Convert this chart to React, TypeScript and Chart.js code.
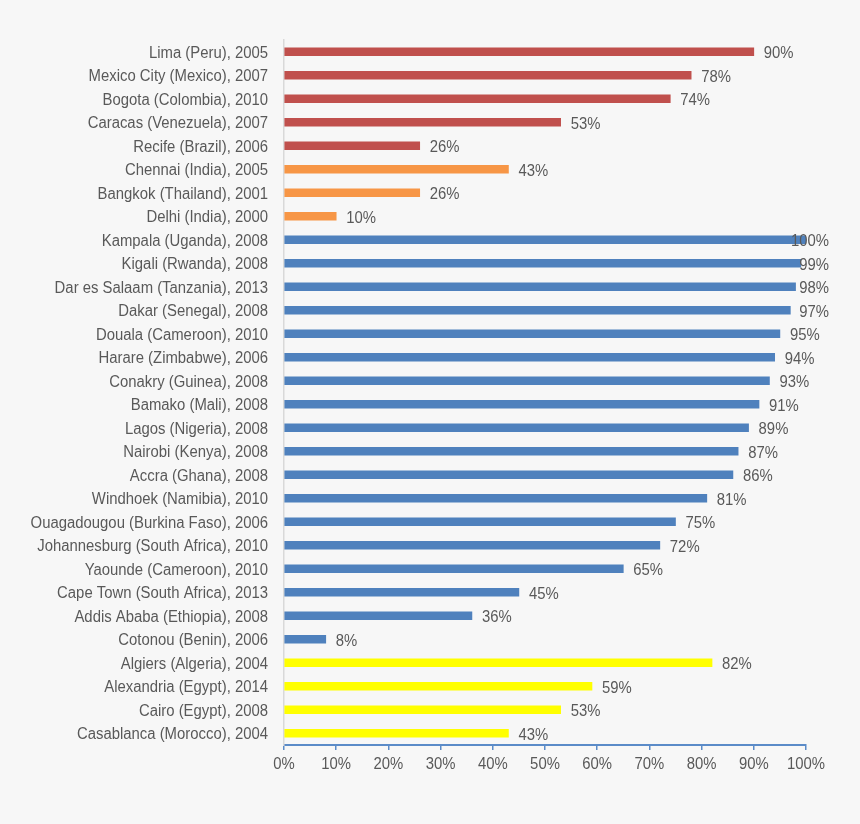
import React, { useEffect, useRef } from "react";
import { Chart, registerables } from "chart.js";

Chart.register(...registerables);

const categories = [
  "Lima (Peru), 2005",
  "Mexico City (Mexico), 2007",
  "Bogota (Colombia), 2010",
  "Caracas (Venezuela), 2007",
  "Recife (Brazil), 2006",
  "Chennai (India), 2005",
  "Bangkok (Thailand), 2001",
  "Delhi (India), 2000",
  "Kampala (Uganda), 2008",
  "Kigali (Rwanda), 2008",
  "Dar es Salaam (Tanzania), 2013",
  "Dakar (Senegal), 2008",
  "Douala (Cameroon), 2010",
  "Harare (Zimbabwe), 2006",
  "Conakry (Guinea), 2008",
  "Bamako (Mali), 2008",
  "Lagos (Nigeria), 2008",
  "Nairobi (Kenya), 2008",
  "Accra (Ghana), 2008",
  "Windhoek (Namibia), 2010",
  "Ouagadougou (Burkina Faso), 2006",
  "Johannesburg (South Africa), 2010",
  "Yaounde (Cameroon), 2010",
  "Cape Town (South Africa), 2013",
  "Addis Ababa (Ethiopia), 2008",
  "Cotonou (Benin), 2006",
  "Algiers (Algeria), 2004",
  "Alexandria (Egypt), 2014",
  "Cairo (Egypt), 2008",
  "Casablanca (Morocco), 2004",
];

const values = [
  90, 78, 74, 53, 26, 43, 26, 10, 100, 99, 98, 97, 95, 94, 93, 91, 89, 87, 86,
  81, 75, 72, 65, 45, 36, 8, 82, 59, 53, 43,
];

const regions = [
  "latam", "latam", "latam", "latam", "latam",
  "asia", "asia", "asia",
  "ssa", "ssa", "ssa", "ssa", "ssa", "ssa", "ssa", "ssa", "ssa", "ssa", "ssa",
  "ssa", "ssa", "ssa", "ssa", "ssa", "ssa", "ssa",
  "nafrica", "nafrica", "nafrica", "nafrica",
];

const regionColors: Record<string, string> = {
  latam: "#c0504d",
  asia: "#f79646",
  ssa: "#4f81bd",
  nafrica: "#ffff00",
};

const xTicks = [0, 10, 20, 30, 40, 50, 60, 70, 80, 90, 100];

const FONT = "'Liberation Sans Narrow', 'Arial Narrow', 'Liberation Sans', Arial, sans-serif";
const FONT_SIZE = 16;
const SQUEEZE = 0.93; // horizontal condensing to imitate a narrow face
const TEXT = "#595959";
const BG = "#f7f7f7";

function narrowText(ctx: CanvasRenderingContext2D, txt: string, x: number, y: number, align: "left" | "right" | "center") {
  const w = ctx.measureText(txt).width * SQUEEZE;
  let left = x;
  if (align === "right") left = x - w;
  else if (align === "center") left = x - w / 2;
  ctx.save();
  ctx.translate(left, y);
  ctx.scale(SQUEEZE, 1);
  ctx.textAlign = "left";
  ctx.fillText(txt, 0, 0);
  ctx.restore();
  return w;
}

const textPlugin = {
  id: "narrowTexts",
  afterDatasetsDraw(chart: any) {
    const ctx: CanvasRenderingContext2D = chart.ctx;
    const yScale = chart.scales.y;
    const xScale = chart.scales.x;
    const meta = chart.getDatasetMeta(0);
    const maxRight = chart.width - 31;
    ctx.save();
    ctx.font = `${FONT_SIZE}px ${FONT}`;
    ctx.fillStyle = TEXT;
    ctx.textBaseline = "alphabetic";

    // category labels
    const labelRight = yScale.right - 16;
    categories.forEach((c, i) => {
      const y = yScale.getPixelForValue(i);
      narrowText(ctx, c, labelRight, y + 6, "right");
    });

    // x tick labels
    const tickY = xScale.top + 24;
    xTicks.forEach((v) => {
      narrowText(ctx, `${v}%`, xScale.getPixelForValue(v), tickY, "center");
    });

    // data labels
    meta.data.forEach((bar: any, i: number) => {
      const txt = `${values[i]}%`;
      const w = ctx.measureText(txt).width * SQUEEZE;
      let x = bar.x + 10;
      if (x + w > maxRight) x = maxRight - w;
      narrowText(ctx, txt, x, bar.y + 6.5, "left");
    });
    ctx.restore();
  },
};

export default function App() {
  const ref = useRef<HTMLCanvasElement | null>(null);

  useEffect(() => {
    document.body.style.margin = "0";
    document.body.style.background = BG;
    if (!ref.current) return;
    const chart = new Chart(ref.current, {
      type: "bar",
      data: {
        labels: categories,
        datasets: [
          {
            data: values,
            backgroundColor: regions.map((r) => regionColors[r]),
            barThickness: 8,
            borderWidth: 0,
          },
        ],
      },
      options: {
        indexAxis: "y",
        animation: false,
        responsive: false,
        maintainAspectRatio: false,
        layout: { padding: { top: 40, right: 54, bottom: 0, left: 0 } },
        plugins: {
          legend: { display: false },
          tooltip: { enabled: false },
        },
        scales: {
          x: {
            type: "linear",
            min: 0,
            max: 100,
            afterBuildTicks: (scale: any) => {
              scale.ticks = xTicks.map((v) => ({ value: v }));
            },
            afterFit: (scale: any) => {
              scale.height = 79;
            },
            grid: {
              display: true,
              drawOnChartArea: false,
              drawTicks: true,
              tickLength: 5,
              color: "#5b8bc8",
              lineWidth: 1.5,
            },
            border: { display: true, color: "#5b8bc8", width: 2 },
            ticks: { display: false },
          },
          y: {
            type: "category",
            afterFit: (scale: any) => {
              scale.width = 284;
            },
            grid: { display: false, drawTicks: false },
            border: { display: true, color: "#d9d9d9", width: 1.5 },
            ticks: { display: false, autoSkip: false },
          },
        },
      },
      plugins: [textPlugin],
    });
    return () => chart.destroy();
  }, []);

  return (
    <div style={{ width: 860, height: 824, background: BG }}>
      <canvas ref={ref} width={860} height={824} style={{ display: "block", width: 860, height: 824 }} />
    </div>
  );
}
